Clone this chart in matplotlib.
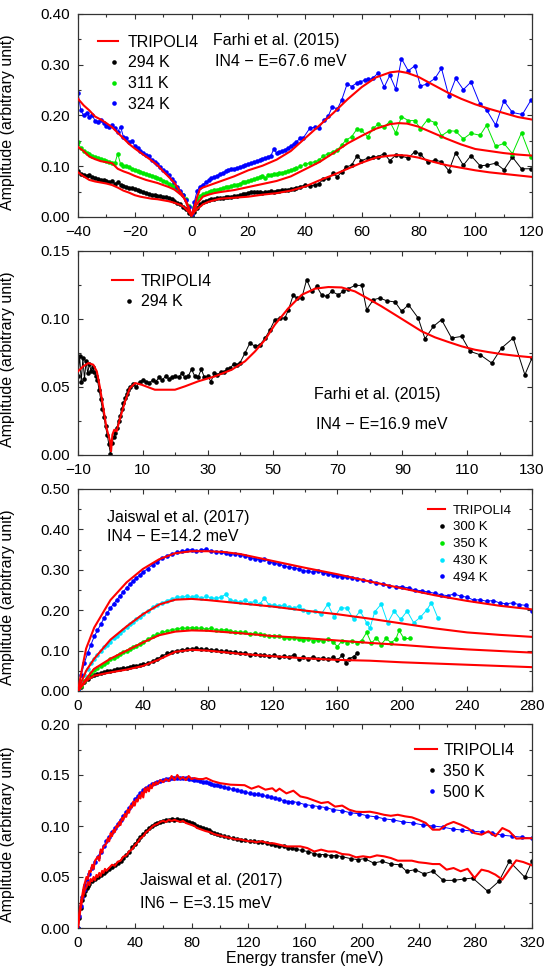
import matplotlib
matplotlib.use("Agg")
import matplotlib.pyplot as plt
from matplotlib.lines import Line2D
from matplotlib.legend_handler import HandlerLine2D
from matplotlib.ticker import MultipleLocator, FormatStrFormatter

plt.rcParams['font.family'] = ['Liberation Sans', 'DejaVu Sans']

# ---------------- panel 1 : Farhi 2015, IN4 E=67.6 meV ----------------
p1_dense_e = [-40, -39, -38, -37, -36, -35, -34, -33, -32, -31, -30, -29, -28, -27, -26,
              -25, -24, -23, -22, -21, -20, -19, -18, -17, -16, -15, -14, -13, -12, -11,
              -10, -9, -8, -7, -6, -5, -4, -3, -2, -1, 0, 1, 2, 3, 4, 5, 6, 7, 8, 9, 10,
              11, 12, 13, 14, 15, 16, 17, 18, 19, 20, 21, 22, 23, 24, 25, 26, 27, 28, 29,
              30, 31, 32, 33, 34, 35, 36, 37]
p1_b324_dense = [0.245, 0.21, 0.2, 0.205, 0.198, 0.2, 0.19, 0.188, 0.192, 0.185, 0.18, 0.178,
                 0.182, 0.175, 0.168, 0.178, 0.158, 0.155, 0.148, 0.15, 0.14, 0.135, 0.13,
                 0.127, 0.122, 0.12, 0.113, 0.108, 0.104, 0.098, 0.092, 0.088, 0.082, 0.075,
                 0.068, 0.06, 0.052, 0.044, 0.033, 0.02, 0.005,
                 0.03, 0.052, 0.06, 0.064, 0.068, 0.072, 0.076, 0.079, 0.081, 0.085, 0.087,
                 0.09, 0.092, 0.094, 0.095, 0.097, 0.098, 0.1, 0.102, 0.104, 0.106, 0.108,
                 0.11, 0.112, 0.114, 0.116, 0.118, 0.121, 0.134, 0.126, 0.128, 0.13, 0.133,
                 0.136, 0.14, 0.143, 0.148]
p1_g311_dense = [0.148, 0.135, 0.13, 0.126, 0.125, 0.12, 0.119, 0.117, 0.114, 0.112, 0.11,
                 0.109, 0.107, 0.106, 0.125, 0.104, 0.101, 0.1, 0.098, 0.095, 0.093, 0.091,
                 0.089, 0.087, 0.085, 0.082, 0.08, 0.079, 0.077, 0.074, 0.071, 0.068, 0.066,
                 0.063, 0.059, 0.055, 0.05, 0.043, 0.035, 0.022, 0.005,
                 0.02, 0.035, 0.042, 0.045, 0.047, 0.049, 0.051, 0.053, 0.054, 0.056, 0.057,
                 0.059, 0.06, 0.061, 0.063, 0.064, 0.066, 0.068, 0.069, 0.071, 0.072, 0.074,
                 0.076, 0.078, 0.08, 0.076, 0.082, 0.083, 0.084, 0.085, 0.086, 0.087, 0.089,
                 0.09, 0.092, 0.094, 0.096]
p1_k294_dense = [0.09, 0.085, 0.082, 0.08, 0.083, 0.078, 0.076, 0.074, 0.072, 0.073, 0.07,
                 0.068, 0.07, 0.066, 0.068, 0.064, 0.062, 0.06, 0.058, 0.057, 0.055, 0.053,
                 0.051, 0.049, 0.047, 0.045, 0.044, 0.043, 0.042, 0.041, 0.04, 0.039, 0.037,
                 0.035, 0.032, 0.028, 0.025, 0.02, 0.015, 0.008, 0.002,
                 0.01, 0.018, 0.025, 0.029, 0.032, 0.033, 0.035, 0.036, 0.037, 0.038, 0.038,
                 0.039, 0.04, 0.04, 0.041, 0.042, 0.043, 0.045, 0.046, 0.048, 0.05, 0.05,
                 0.049, 0.05, 0.047, 0.049, 0.05, 0.051, 0.05, 0.052, 0.052, 0.053, 0.054,
                 0.054, 0.055, 0.056, 0.058]
p1_b324_tail_e = [38.2, 39.4, 41.7, 43.5, 44.9, 46.7, 48.2, 49.6, 51.4, 52.9, 54.9, 56.4,
                  58.2, 59.4, 61.1, 62.3, 63.8, 65.8, 67.9, 69.9, 72.0, 74.0, 76.4, 78.7,
                  80.7, 82.9, 85.8, 88.1, 90.7, 93.1, 95.8, 98.5, 101.7, 104.0, 107.2, 110.1,
                  113.1, 116.6, 119.6]
p1_b324_tail = [0.155, 0.156, 0.175, 0.177, 0.175, 0.191, 0.199, 0.217, 0.213, 0.230, 0.263,
                0.257, 0.264, 0.266, 0.270, 0.271, 0.273, 0.284, 0.256, 0.279, 0.252, 0.312,
                0.288, 0.298, 0.258, 0.262, 0.273, 0.293, 0.238, 0.273, 0.251, 0.266, 0.222,
                0.211, 0.181, 0.229, 0.206, 0.202, 0.230]
p1_tail_e = [38.2, 40.0, 41.7, 43.5, 44.9, 46.4, 48.2, 50.0, 51.4, 52.9, 54.6, 56.4, 58.4,
             59.9, 62.1, 64.1, 65.8, 67.9, 69.9, 72.0, 74.0, 76.4, 78.7, 80.7, 83.2, 85.8,
             88.1, 90.7, 93.1, 95.8, 98.5, 101.7, 104.0, 107.2, 110.1, 113.1, 116.3, 119.6]
p1_g311_tail = [0.100, 0.104, 0.107, 0.109, 0.112, 0.120, 0.125, 0.129, 0.132, 0.142, 0.152,
                0.158, 0.174, 0.171, 0.158, 0.175, 0.183, 0.178, 0.188, 0.165, 0.198, 0.190,
                0.190, 0.174, 0.192, 0.186, 0.160, 0.170, 0.169, 0.154, 0.165, 0.161, 0.181,
                0.139, 0.145, 0.125, 0.166, 0.118]
p1_k294_tail = [0.060, 0.063, 0.061, 0.063, 0.066, 0.074, 0.076, 0.086, 0.079, 0.089, 0.099,
                0.102, 0.121, 0.111, 0.116, 0.118, 0.119, 0.125, 0.111, 0.122, 0.120, 0.116,
                0.129, 0.124, 0.108, 0.112, 0.109, 0.091, 0.127, 0.102, 0.121, 0.101, 0.102,
                0.106, 0.093, 0.118, 0.095, 0.095]
p1_model_e = [-40, -38, -36, -34, -32, -30, -28, -26, -24, -22, -20, -18, -16, -14, -12, -10,
              -8, -6, -4, -3, -2, -1, 0, 1, 2, 3, 4, 6, 8, 10, 15, 20, 25, 30, 35, 40, 45,
              50, 55, 60, 65, 70, 73, 76, 80, 85, 90, 95, 100, 105, 110, 115, 120]
p1_m324 = [0.233, 0.220, 0.210, 0.198, 0.192, 0.185, 0.177, 0.166, 0.155, 0.144, 0.135, 0.127,
           0.119, 0.111, 0.102, 0.090, 0.079, 0.067, 0.050, 0.042, 0.030, 0.015, 0.003, 0.020,
           0.040, 0.055, 0.058, 0.062, 0.066, 0.070, 0.080, 0.092, 0.101, 0.113, 0.130, 0.155,
           0.180, 0.205, 0.232, 0.256, 0.275, 0.285, 0.287, 0.284, 0.276, 0.261, 0.246, 0.233,
           0.222, 0.213, 0.205, 0.197, 0.192]
p1_m311 = [0.138, 0.130, 0.119, 0.114, 0.110, 0.108, 0.106, 0.095, 0.090, 0.086, 0.081, 0.077,
           0.073, 0.070, 0.067, 0.063, 0.059, 0.054, 0.045, 0.040, 0.032, 0.020, 0.003, 0.015,
           0.026, 0.033, 0.040, 0.044, 0.047, 0.049, 0.053, 0.059, 0.065, 0.071, 0.080, 0.094,
           0.108, 0.126, 0.145, 0.160, 0.174, 0.183, 0.185, 0.184, 0.178, 0.166, 0.154, 0.143,
           0.134, 0.130, 0.126, 0.123, 0.121]
p1_m294 = [0.088, 0.080, 0.073, 0.070, 0.068, 0.066, 0.063, 0.058, 0.052, 0.048, 0.043, 0.040,
           0.038, 0.036, 0.035, 0.033, 0.031, 0.028, 0.024, 0.021, 0.016, 0.010, 0.002, 0.010,
           0.016, 0.020, 0.025, 0.030, 0.033, 0.036, 0.038, 0.040, 0.044, 0.047, 0.052, 0.060,
           0.072, 0.083, 0.095, 0.107, 0.117, 0.121, 0.122, 0.121, 0.117, 0.109, 0.102, 0.097,
           0.092, 0.088, 0.085, 0.082, 0.079]

# ---------------- panel 2 : Farhi 2015, IN4 E=16.9 meV ----------------
p2_k294_e = [-10, -9.5, -9, -8.5, -8, -7.5, -7, -6.5, -6, -5.5, -5, -4.5, -4, -3.5, -3, -2.5,
             -2, -1.5, -1, -0.5, 0, 0.5, 1, 1.5, 2, 2.5, 3, 3.5, 4, 4.5, 5, 5.5, 6, 7, 8, 9,
             10, 11, 12, 13, 14, 15, 16, 17, 18, 19, 20, 21, 22, 23, 24, 25, 26, 27, 28, 29,
             30, 31, 32, 33, 34, 35, 36, 37, 38, 39, 40,
             41.5, 43.0, 44.6, 46.1, 47.7, 49.2, 50.7, 52.3, 53.8, 54.9, 56.4, 57.4, 59.0,
             60.5, 62.1, 63.6, 65.1, 66.7, 68.2, 70.3, 71.8, 73.4, 75.4, 77.5, 79.0, 81.1,
             83.1, 85.2, 87.8, 89.8, 91.9, 94.9, 97.0, 99.6, 102.1, 105.2, 108.3, 110.9, 114.0,
             117.6, 120.6, 124.2, 127.8, 130.0]
p2_k294 = [0.058, 0.073, 0.054, 0.071, 0.056, 0.069, 0.060, 0.067, 0.062, 0.065, 0.061, 0.058,
           0.055, 0.048, 0.041, 0.034, 0.028, 0.021, 0.015, 0.008, 0.001, 0.009, 0.013, 0.016,
           0.020, 0.025, 0.029, 0.034, 0.038, 0.042, 0.045, 0.048, 0.050, 0.052, 0.050, 0.054,
           0.055, 0.054, 0.053, 0.055, 0.054, 0.057, 0.055, 0.058, 0.056, 0.057, 0.058, 0.057,
           0.060, 0.057, 0.058, 0.063, 0.058, 0.057, 0.063, 0.057, 0.058, 0.054, 0.060, 0.059,
           0.061, 0.061, 0.063, 0.064, 0.067, 0.066, 0.068,
           0.075, 0.0823, 0.0799, 0.0811, 0.086, 0.0921, 0.0995, 0.1007, 0.1007, 0.1068,
           0.1178, 0.1154, 0.1154, 0.1289, 0.1203, 0.124, 0.1178, 0.1166, 0.1203, 0.1178,
           0.1203, 0.1223, 0.1247, 0.1247, 0.1068, 0.1142, 0.1154, 0.1134, 0.1125, 0.1056,
           0.1105, 0.1007, 0.0855, 0.0946, 0.0995, 0.086, 0.0872, 0.0762, 0.0737, 0.0676,
           0.0786, 0.086, 0.059, 0.0713]
p2_model_e = [-10, -8.4, -6.8, -5.3, -4.2, -3.2, -2.2, -1.2, -0.1, 0.2, 0.6, 1.2, 1.9, 3.0,
              4.5, 6.0, 7.6, 9.6, 13.7, 19.9, 23.0, 27.1, 32.2, 37.4, 41.5, 44.6, 47.7, 50.7,
              54.9, 59.0, 63.1, 67.2, 71.3, 75.4, 79.5, 83.6, 87.8, 91.9, 96.0, 100.1, 104.2,
              108.3, 112.4, 116.5, 120.6, 124.8, 130]
p2_m294 = [0.0615, 0.0652, 0.0676, 0.0664, 0.0615, 0.0492, 0.0345, 0.0198, 0.010, 0.0027,
           0.0149, 0.0186, 0.0174, 0.0272, 0.0394, 0.0492, 0.0529, 0.0517, 0.048, 0.048,
           0.0505, 0.0542, 0.0578, 0.0627, 0.0689, 0.0762, 0.0848, 0.0958, 0.108, 0.1178,
           0.1223, 0.1235, 0.1232, 0.1203, 0.1149, 0.1093, 0.1031, 0.097, 0.0909, 0.0865,
           0.0831, 0.0799, 0.0774, 0.0757, 0.0742, 0.073, 0.0718]

# ---------------- panel 3 : Jaiswal 2017, IN4 E=14.2 meV ----------------
p3_dense_e = [0, 2, 4, 6, 8, 10, 12, 14, 16, 18, 20, 22, 24, 26, 28, 30, 32, 34, 36, 38, 40,
              43, 46, 49, 52, 55, 58, 61, 64, 67, 70, 73, 76, 79, 82, 85, 88, 91, 94, 97, 100,
              103, 106, 109, 112, 115, 118, 121, 124, 127, 130, 133, 136, 139, 142]
p3_b494 = [0.0, 0.04, 0.07, 0.095, 0.115, 0.135, 0.15, 0.165, 0.18, 0.193, 0.205, 0.216, 0.226,
           0.236, 0.246, 0.256, 0.264, 0.272, 0.28, 0.287, 0.294, 0.303, 0.313, 0.32, 0.328,
           0.335, 0.339, 0.343, 0.346, 0.348, 0.35, 0.347, 0.349, 0.351, 0.346, 0.345, 0.343,
           0.341, 0.339, 0.34, 0.336, 0.334, 0.33, 0.327, 0.325, 0.327, 0.32, 0.316, 0.314,
           0.31, 0.306, 0.305, 0.302, 0.298, 0.296]
p3_b494_tail_e = [145, 148, 151, 154, 157, 160, 163, 166, 169, 172, 176, 180, 184, 188, 192,
                  196, 200, 204, 208, 212, 216, 220, 224, 228, 232, 236, 240, 244, 248, 252,
                  256, 260, 264, 268, 272, 276, 280]
p3_b494_tail = [0.294, 0.298, 0.292, 0.29, 0.288, 0.285, 0.283, 0.281, 0.28, 0.278, 0.274,
                0.272, 0.268, 0.265, 0.26, 0.258, 0.258, 0.255, 0.25, 0.248, 0.245, 0.242,
                0.238, 0.236, 0.24, 0.235, 0.232, 0.225, 0.226, 0.222, 0.224, 0.218, 0.216,
                0.218, 0.214, 0.212, 0.198]
p3_c430 = [0.0, 0.02, 0.04, 0.055, 0.07, 0.08, 0.09, 0.1, 0.108, 0.115, 0.122, 0.13, 0.137,
           0.143, 0.15, 0.158, 0.165, 0.172, 0.178, 0.184, 0.19, 0.198, 0.207, 0.213, 0.218,
           0.224, 0.228, 0.232, 0.233, 0.235, 0.232, 0.236, 0.23, 0.234, 0.231, 0.229, 0.232,
           0.239, 0.225, 0.222, 0.22, 0.225, 0.218, 0.222, 0.215, 0.23, 0.212, 0.213, 0.21,
           0.212, 0.208, 0.205, 0.21, 0.2, 0.195]
p3_c430_tail_e = [146, 150, 154, 158, 162, 166, 170, 174, 178, 180, 183, 187, 191, 195, 199,
                  203, 207, 211, 215, 218, 222]
p3_c430_tail = [0.198, 0.19, 0.215, 0.182, 0.206, 0.205, 0.177, 0.198, 0.169, 0.155, 0.196,
                0.215, 0.169, 0.198, 0.177, 0.198, 0.169, 0.182, 0.2, 0.219, 0.18]
p3_g350 = [0.0, 0.012, 0.025, 0.035, 0.045, 0.052, 0.058, 0.063, 0.068, 0.073, 0.078, 0.082,
           0.087, 0.091, 0.096, 0.1, 0.104, 0.108, 0.112, 0.117, 0.122, 0.128, 0.135, 0.141,
           0.145, 0.149, 0.152, 0.154, 0.156, 0.155, 0.157, 0.155, 0.156, 0.153, 0.155, 0.152,
           0.15, 0.152, 0.148, 0.147, 0.145, 0.146, 0.142, 0.143, 0.14, 0.138, 0.137, 0.135,
           0.136, 0.132, 0.13, 0.132, 0.128, 0.127, 0.129]
p3_g350_tail_e = [145, 148, 151, 154, 157, 160, 163, 166, 169, 172, 175, 178, 181, 184, 187,
                  190, 193, 196, 198, 201, 205]
p3_g350_tail = [0.125, 0.126, 0.124, 0.128, 0.122, 0.11, 0.125, 0.12, 0.124, 0.12, 0.125,
                0.145, 0.118, 0.132, 0.115, 0.13, 0.12, 0.128, 0.15, 0.13, 0.13]
p3_k300 = [0.0, 0.01, 0.022, 0.03, 0.036, 0.04, 0.043, 0.045, 0.047, 0.049, 0.05, 0.052,
           0.054, 0.055, 0.057, 0.058, 0.06, 0.061, 0.063, 0.064, 0.066, 0.069, 0.074, 0.08,
           0.087, 0.093, 0.097, 0.1, 0.102, 0.103, 0.104, 0.106, 0.103, 0.104, 0.102, 0.101,
           0.099, 0.098, 0.096, 0.097, 0.093, 0.094, 0.09, 0.091, 0.088, 0.089, 0.087, 0.088,
           0.085, 0.086, 0.083, 0.09, 0.08, 0.084, 0.079]
p3_k300_tail_e = [145, 148, 151, 154, 157, 160, 163, 165, 167, 170, 172]
p3_k300_tail = [0.085, 0.08, 0.082, 0.078, 0.083, 0.077, 0.088, 0.07, 0.08, 0.085, 0.093]
p3_model_e = [0, 2, 5, 10, 20, 30, 40, 50, 60, 70, 80, 90, 100, 120, 140, 160, 180, 200, 220,
              240, 260, 280]
p3_m494 = [0, 0.045, 0.105, 0.157, 0.225, 0.269, 0.302, 0.326, 0.341, 0.346, 0.346, 0.344,
           0.339, 0.322, 0.305, 0.289, 0.271, 0.254, 0.237, 0.223, 0.211, 0.202]
p3_m430 = [0, 0.022, 0.05, 0.08, 0.127, 0.160, 0.190, 0.214, 0.226, 0.228, 0.225, 0.221,
           0.217, 0.209, 0.199, 0.190, 0.179, 0.167, 0.155, 0.145, 0.139, 0.134]
p3_m350 = [0, 0.012, 0.03, 0.055, 0.08, 0.1, 0.12, 0.138, 0.147, 0.15, 0.149, 0.146, 0.143,
           0.136, 0.131, 0.125, 0.119, 0.114, 0.108, 0.103, 0.099, 0.095]
p3_m300 = [0, 0.01, 0.025, 0.038, 0.046, 0.053, 0.062, 0.078, 0.097, 0.102, 0.1, 0.096, 0.092,
           0.086, 0.081, 0.077, 0.075, 0.071, 0.068, 0.065, 0.062, 0.059]

# ---------------- panel 4 : Jaiswal 2017, IN6 E=3.15 meV ----------------
p4_b500_e = [0, 1, 2, 3, 4, 5, 6, 8, 10, 12, 14, 16, 18, 20, 22, 24, 26, 28, 30, 32, 34, 36,
             38, 40, 42, 44, 46, 48, 50, 52, 54, 56, 58, 60, 62, 64, 66, 68, 70, 72, 74, 76,
             78, 80, 82, 84, 86, 88, 90, 92, 94, 96, 98, 100, 103, 106, 109, 112, 115, 118,
             121, 124, 127, 130, 133, 136, 139, 142, 145, 148, 151, 155, 160, 165, 170, 175,
             180, 186, 192, 198, 204, 210, 216, 222, 229, 236, 243, 250, 257, 264, 271, 278,
             285, 292, 299, 306, 313, 320]
p4_b500 = [0.0, 0.012, 0.022, 0.03, 0.037, 0.042, 0.047,
           0.053, 0.059, 0.065, 0.07, 0.075, 0.08, 0.085, 0.089, 0.094, 0.098,
           0.102, 0.106, 0.11, 0.114, 0.118, 0.122, 0.126, 0.129, 0.132, 0.135,
           0.137, 0.139, 0.141, 0.142, 0.143, 0.144, 0.145, 0.146, 0.146, 0.147,
           0.147, 0.147, 0.147, 0.147, 0.147, 0.146, 0.146, 0.145, 0.145, 0.144,
           0.143, 0.143, 0.142, 0.141, 0.140, 0.140, 0.139,
           0.138, 0.137, 0.136, 0.135, 0.134, 0.133, 0.132, 0.131, 0.131, 0.13, 0.129, 0.128,
           0.127, 0.126, 0.125, 0.124, 0.124,
           0.123, 0.121, 0.12, 0.119, 0.118, 0.116,
           0.115, 0.113, 0.112, 0.11, 0.109, 0.107, 0.106,
           0.104, 0.103, 0.101, 0.1, 0.099, 0.097, 0.096, 0.095, 0.094, 0.093, 0.091, 0.09,
           0.089, 0.088]
p4_k350_e = [0, 1, 2, 3, 4, 5, 6, 7, 8, 10, 12, 14, 16, 18, 20, 22, 24, 26, 28, 30, 32, 34,
             36, 38, 40, 42, 44, 46, 48, 50, 52, 54, 56, 58, 60, 62, 64, 66, 68, 70, 72, 74,
             76, 78, 80, 82, 84, 86, 88, 90, 92, 94, 96, 98, 100, 103, 106, 109, 112, 115,
             118, 121, 124, 127, 130, 133, 136, 139, 142, 145, 148, 151, 154, 158, 162, 166,
             170, 174, 178, 182, 186, 192.3, 197.2, 202.1, 208.3, 214.4, 220.5, 226.7, 231.6,
             237.7, 243.9, 250, 257.4, 264.7, 272.1, 278.2, 288.8, 296.7, 304, 315, 320]
p4_k350 = [0.0, 0.01, 0.02, 0.027, 0.032, 0.036, 0.039, 0.041, 0.043,
           0.046, 0.048, 0.05, 0.052, 0.054, 0.056, 0.058, 0.06, 0.062, 0.064, 0.066, 0.069,
           0.072, 0.075, 0.079, 0.082, 0.086, 0.089, 0.092, 0.095, 0.098, 0.1, 0.102, 0.103,
           0.104, 0.105, 0.106, 0.106, 0.107, 0.106, 0.107, 0.106, 0.106, 0.105, 0.104, 0.103,
           0.102, 0.1, 0.099, 0.098, 0.097, 0.096, 0.094, 0.093, 0.092, 0.091,
           0.09, 0.089, 0.088, 0.087, 0.086, 0.086, 0.085, 0.085, 0.084, 0.084, 0.083, 0.082,
           0.081, 0.08, 0.08, 0.078, 0.078,
           0.077, 0.076, 0.075, 0.073, 0.072, 0.072, 0.071, 0.071, 0.07,
           0.068, 0.067, 0.068, 0.0637, 0.0654, 0.0627, 0.062, 0.0556, 0.0572, 0.053, 0.0556,
           0.0467, 0.0467, 0.048, 0.049, 0.036, 0.0458, 0.0654, 0.0497, 0.0654]
p4_m500_e = [0, 1, 2, 3, 4, 5, 6, 7, 8, 9, 10, 11, 12, 13, 14, 15, 16, 17, 18, 19, 20, 21, 22,
             23, 24, 25, 26, 27, 28, 29, 30, 31, 32, 33, 34, 35, 36, 37, 38, 39, 40, 41, 42,
             43, 44, 45, 46, 47, 48, 49, 50, 51, 52, 53, 54, 55, 56, 58, 60, 62, 64, 66, 68,
             70, 72, 74, 76, 78, 80, 82, 85, 88, 90.4, 95, 100.2, 107.6, 117.4, 122.3, 127.2,
             132.1, 137, 139.5, 142, 146.9, 151.8, 156.7, 161.6, 166.5, 171.4, 176.3, 181.2,
             186.2, 191.1, 196, 200.9, 205.8, 210.7, 215.6, 220.5, 225.4, 230.4, 235.3, 240.2,
             245.1, 250, 254.9, 259.8, 264.7, 269.7, 274.6, 279.5, 284.4, 289.3, 294.2, 299.1,
             304, 308.9, 313.8, 320]
p4_m500 = [0, 0.015, 0.025, 0.032, 0.04, 0.045, 0.05, 0.048, 0.056, 0.055, 0.062, 0.058, 0.066,
           0.068, 0.07, 0.066, 0.077, 0.074, 0.08, 0.081, 0.083, 0.088, 0.085, 0.093, 0.09,
           0.096, 0.094, 0.1, 0.099, 0.104, 0.101, 0.108, 0.106, 0.112, 0.109, 0.116, 0.113,
           0.12, 0.118, 0.124, 0.12, 0.126, 0.124, 0.13, 0.127, 0.133, 0.128, 0.137, 0.133,
           0.138, 0.134, 0.14, 0.137, 0.142, 0.14, 0.143, 0.141,
           0.145, 0.143, 0.146, 0.144, 0.149, 0.145, 0.15, 0.146, 0.148, 0.145, 0.149, 0.146,
           0.147, 0.146, 0.146, 0.147, 0.144, 0.142, 0.1405, 0.14, 0.1366, 0.139, 0.1356,
           0.137, 0.134, 0.1366, 0.132, 0.1346, 0.129, 0.1275, 0.125, 0.1225, 0.1235, 0.119,
           0.12, 0.116, 0.114, 0.1137, 0.114, 0.1127, 0.111, 0.11, 0.111, 0.1095, 0.1085,
           0.106, 0.103, 0.0964, 0.0964, 0.1013, 0.104, 0.1013, 0.098, 0.093, 0.0915, 0.0948,
           0.09, 0.098, 0.0948, 0.0876, 0.088, 0.088]
p4_m350_e = [0, 1, 2, 3, 4, 5, 6, 7, 8, 9, 10, 11, 12, 13, 14, 15, 16, 17, 18, 19, 20, 22,
             24, 26, 28, 30, 32, 34, 36, 38, 40, 42, 44, 46, 48, 50, 52, 54, 56, 58, 60, 62,
             64, 66, 68, 70, 72, 74, 76, 78, 80, 82, 84, 86, 88, 90, 93, 96, 99, 102, 105,
             108, 111, 114, 117, 120, 123, 126, 129, 132, 135, 138, 141, 144, 147, 150,
             156.7, 161.6, 166.5, 171.4, 176.3, 181.2, 186.2, 191.1, 196, 200.9, 205.8, 210.7,
             215.6, 220.5, 225.4, 230.4, 235.3, 240.2, 245.1, 250, 254.9, 259.8, 264.7, 269.7,
             274.6, 279.5, 284.4, 289.3, 294.2, 299.1, 304, 308.9, 313.8, 320]
p4_m350 = [0, 0.012, 0.02, 0.028, 0.033, 0.038, 0.04, 0.045, 0.042, 0.048, 0.046, 0.05, 0.047,
           0.052, 0.05, 0.054, 0.051, 0.056, 0.054, 0.058, 0.056,
           0.059, 0.062, 0.061, 0.065, 0.066, 0.07, 0.071, 0.075, 0.077, 0.081, 0.084, 0.088,
           0.09, 0.094, 0.096, 0.099, 0.101, 0.102, 0.104, 0.105, 0.104, 0.106, 0.105, 0.106,
           0.105, 0.104, 0.105, 0.103, 0.102, 0.101, 0.1, 0.098, 0.097, 0.096, 0.095,
           0.094, 0.092, 0.091, 0.09, 0.089, 0.088, 0.087, 0.087, 0.086, 0.085, 0.085, 0.084,
           0.085, 0.084, 0.083, 0.083, 0.082, 0.081, 0.08, 0.08,
           0.080, 0.0784, 0.075, 0.0768, 0.075, 0.075, 0.0725, 0.0719, 0.0693, 0.0703, 0.0693,
           0.0712, 0.0703, 0.0686, 0.066, 0.066, 0.066, 0.0644, 0.0637, 0.0627, 0.0627,
           0.0572, 0.0588, 0.0556, 0.058, 0.049, 0.0572, 0.0556, 0.0523, 0.0474, 0.0572,
           0.0663, 0.0647, 0.0614]

RED = '#ff0000'
BLUE = '#0000ff'
GREEN = '#00e600'
CYAN = '#00e5ff'
BLACK = '#000000'
FS = 11.5


class DotRight(HandlerLine2D):
    # the original legend puts the dot near the right end of the sample
    def get_xdata(self, legend, xdescent, ydescent, width, height, fontsize):
        x = -xdescent + 0.8 * width
        return [x, x], [x]


def data(ax, e, v, c):
    ax.plot(e, v, color=c, lw=0.7, marker='o', ms=3.3, mew=0, zorder=2)


def model(ax, e, v):
    ax.plot(e, v, color=RED, lw=1.5, zorder=3)


def style(ax, xlim, xmaj, xmin, ylim, ymaj, ymin, ly):
    ax.set_xlim(xlim)
    ax.set_ylim(ylim)
    ax.xaxis.set_minor_locator(MultipleLocator(xmin))
    ax.yaxis.set_major_locator(MultipleLocator(ymaj))
    ax.yaxis.set_minor_locator(MultipleLocator(ymin))
    if xmaj is not None:
        ax.xaxis.set_major_locator(MultipleLocator(xmaj))
    ax.yaxis.set_major_formatter(FormatStrFormatter('%.2f'))
    ax.tick_params(which='both', direction='in', top=True, right=True, width=0.8,
                   labelsize=11, pad=6, color='#333333')
    ax.tick_params(which='major', length=3.5)
    ax.tick_params(which='minor', length=2)
    for s in ax.spines.values():
        s.set_linewidth(0.9)
        s.set_color('#333333')
    ax.set_ylabel('Amplitude (arbitrary unit)', fontsize=FS)
    ax.yaxis.set_label_coords(-0.139, ly)


def legend(ax, entries, anchor, fs, hl, htp, ls):
    handles = []
    hmap = {}
    for lab, c in entries:
        if c == RED:
            h = Line2D([], [], color=RED, lw=1.5)
        else:
            h = Line2D([], [], color=c, ls='none', marker='o', ms=3.3, mew=0)
            hmap[h] = DotRight()
        handles.append(h)
    ax.legend(handles, [e[0] for e in entries], loc='upper left', bbox_to_anchor=anchor,
              frameon=False, fontsize=fs, handlelength=hl, handletextpad=htp,
              labelspacing=ls, borderpad=0, borderaxespad=0, handler_map=hmap)


W, H = 547, 973
fig = plt.figure(figsize=(W / 100, H / 100), dpi=100)


def panel(top, bottom):
    return fig.add_axes([78 / W, 1 - bottom / H, 454 / W, (bottom - top) / H])


# panel 1
ax1 = panel(14, 217)
data(ax1, p1_dense_e + p1_tail_e, p1_k294_dense + p1_k294_tail, BLACK)
data(ax1, p1_dense_e + p1_tail_e, p1_g311_dense + p1_g311_tail, GREEN)
data(ax1, p1_dense_e + p1_b324_tail_e, p1_b324_dense + p1_b324_tail, BLUE)
model(ax1, p1_model_e, p1_m294)
model(ax1, p1_model_e, p1_m311)
model(ax1, p1_model_e, p1_m324)
style(ax1, (-40, 120), 20, 10, (0, 0.4), 0.1, 0.05, 0.465)
legend(ax1, [('TRIPOLI4', RED), ('294 K', BLACK), ('311 K', GREEN), ('324 K', BLUE)],
       (0.044, 0.898), FS, 1.25, 0.62, 0.36)
ax1.text(0.297, 0.868, 'Farhi et al. (2015)', transform=ax1.transAxes, fontsize=FS, va='center')
ax1.text(0.302, 0.765, 'IN4 \u2212 E=67.6 meV', transform=ax1.transAxes, fontsize=FS, va='center')

# panel 2
ax2 = panel(251, 455)
data(ax2, p2_k294_e, p2_k294, BLACK)
model(ax2, p2_model_e, p2_m294)
style(ax2, (-10, 130), None, 10, (0, 0.15), 0.05, 0.025, 0.47)
ax2.set_xticks([-10, 10, 30, 50, 70, 90, 110, 130])
legend(ax2, [('TRIPOLI4', RED), ('294 K', BLACK)], (0.075, 0.889), FS, 1.3, 0.5, 0.35)
ax2.text(0.520, 0.296, 'Farhi et al. (2015)', transform=ax2.transAxes, fontsize=FS, va='center')
ax2.text(0.524, 0.149, 'IN4 \u2212 E=16.9 meV', transform=ax2.transAxes, fontsize=FS, va='center')

# panel 3
ax3 = panel(489, 691)
data(ax3, p3_dense_e + p3_k300_tail_e, p3_k300 + p3_k300_tail, BLACK)
data(ax3, p3_dense_e + p3_g350_tail_e, p3_g350 + p3_g350_tail, GREEN)
data(ax3, p3_dense_e + p3_c430_tail_e, p3_c430 + p3_c430_tail, CYAN)
data(ax3, p3_dense_e + p3_b494_tail_e, p3_b494 + p3_b494_tail, BLUE)
for m in (p3_m300, p3_m350, p3_m430, p3_m494):
    model(ax3, p3_model_e, m)
style(ax3, (0, 280), 40, 20, (0, 0.5), 0.1, 0.05, 0.465)
legend(ax3, [('TRIPOLI4', RED), ('300 K', BLACK), ('350 K', GREEN), ('430 K', CYAN),
             ('494 K', BLUE)], (0.771, 0.924), 9.5, 1.3, 0.6, 0.35)
ax3.text(0.064, 0.858, 'Jaiswal et al. (2017)', transform=ax3.transAxes, fontsize=FS, va='center')
ax3.text(0.064, 0.767, 'IN4 \u2212 E=14.2 meV', transform=ax3.transAxes, fontsize=FS, va='center')

# panel 4
ax4 = panel(724, 928)
data(ax4, p4_k350_e, p4_k350, BLACK)
data(ax4, p4_b500_e, p4_b500, BLUE)
model(ax4, p4_m350_e, p4_m350)
model(ax4, p4_m500_e, p4_m500)
style(ax4, (0, 320), 40, 20, (0, 0.2), 0.05, 0.025, 0.46)
legend(ax4, [('TRIPOLI4', RED), ('350 K', BLACK), ('500 K', BLUE)], (0.742, 0.907), FS,
       1.37, 0.4, 0.375)
ax4.text(0.137, 0.234, 'Jaiswal et al. (2017)', transform=ax4.transAxes, fontsize=FS, va='center')
ax4.text(0.137, 0.119, 'IN6 \u2212 E=3.15 meV', transform=ax4.transAxes, fontsize=FS, va='center')
ax4.set_xlabel('Energy transfer (meV)', fontsize=FS)
ax4.xaxis.set_label_coords(0.5, -0.115)

fig.savefig('out.png', dpi=100)
